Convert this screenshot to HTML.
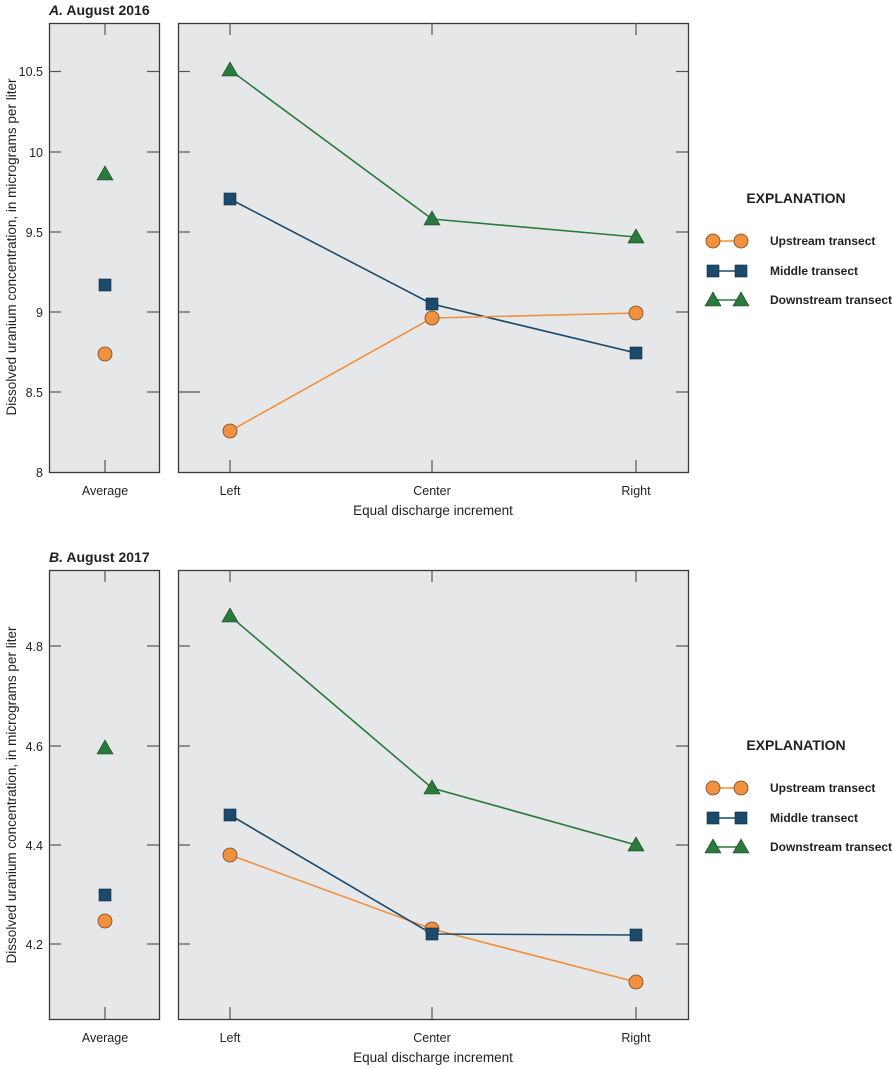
<!DOCTYPE html>
<html><head><meta charset="utf-8"><style>
html,body{margin:0;padding:0;background:#fff}
svg{display:block}
text{font-family:"Liberation Sans",sans-serif;fill:#231f20}
</style></head><body>
<svg width="892" height="1069" viewBox="0 0 892 1069" xmlns="http://www.w3.org/2000/svg">
<defs>
<g id="circ"><circle r="7" fill="#f0913f" stroke="#7a4a20" stroke-width="0.8"/></g>
<g id="sq"><rect x="-6" y="-6" width="12" height="12" fill="#1b4a6b" stroke="#0e2a40" stroke-width="0.6"/></g>
<g id="tri"><polygon points="0,-8 8,6 -8,6" fill="#2a7a3b" stroke="#173f20" stroke-width="0.6"/></g>
</defs>

<!-- ===== Panel A ===== -->
<text x="49" y="15" font-size="14" font-weight="bold"><tspan font-style="italic">A.</tspan> August 2016</text>
<rect x="49.5" y="23.5" width="110" height="449" fill="#e6e7e8" stroke="#3a3a3a" stroke-width="1.3"/>
<rect x="178.5" y="23.5" width="510" height="449" fill="#e6e7e8" stroke="#3a3a3a" stroke-width="1.3"/>
<g stroke="#555" stroke-width="1.2">
<line x1="105" y1="23" x2="105" y2="35"/><line x1="105" y1="472" x2="105" y2="460"/>
<line x1="230" y1="23" x2="230" y2="35"/><line x1="230" y1="472" x2="230" y2="460"/>
<line x1="432" y1="23" x2="432" y2="35"/><line x1="432" y1="472" x2="432" y2="460"/>
<line x1="636" y1="23" x2="636" y2="35"/><line x1="636" y1="472" x2="636" y2="460"/>
<line x1="49" y1="71.5" x2="61" y2="71.5"/><line x1="159" y1="71.5" x2="147" y2="71.5"/><line x1="178" y1="71.5" x2="190" y2="71.5"/><line x1="688" y1="71.5" x2="676" y2="71.5"/>
<line x1="49" y1="152" x2="61" y2="152"/><line x1="159" y1="152" x2="147" y2="152"/><line x1="178" y1="152" x2="190" y2="152"/><line x1="688" y1="152" x2="676" y2="152"/>
<line x1="49" y1="232" x2="61" y2="232"/><line x1="159" y1="232" x2="147" y2="232"/><line x1="178" y1="232" x2="190" y2="232"/><line x1="688" y1="232" x2="676" y2="232"/>
<line x1="49" y1="312" x2="61" y2="312"/><line x1="159" y1="312" x2="147" y2="312"/><line x1="178" y1="312" x2="190" y2="312"/><line x1="688" y1="312" x2="676" y2="312"/>
<line x1="49" y1="392" x2="61" y2="392"/><line x1="159" y1="392" x2="147" y2="392"/><line x1="178" y1="392" x2="200" y2="392"/><line x1="688" y1="392" x2="676" y2="392"/>
</g>
<g font-size="12.5" text-anchor="end">
<text x="43" y="76">10.5</text><text x="43" y="157">10</text><text x="43" y="237">9.5</text>
<text x="43" y="317">9</text><text x="43" y="397">8.5</text><text x="43" y="477">8</text>
</g>
<g font-size="12.5" text-anchor="middle">
<text x="105" y="495">Average</text><text x="230" y="495">Left</text><text x="432" y="495">Center</text><text x="636" y="495">Right</text>
<text x="433" y="515" font-size="13.5">Equal discharge increment</text>
</g>
<text font-size="13.5" text-anchor="middle" transform="translate(16,247) rotate(-90)">Dissolved uranium concentration, in micrograms per liter</text>
<polyline points="230,70 432,219 636,237" fill="none" stroke="#2a7a3b" stroke-width="1.6"/>
<polyline points="230,199 432,304 636,353" fill="none" stroke="#1b4a6b" stroke-width="1.6"/>
<polyline points="230,431 432,318 636,313" fill="none" stroke="#f0913f" stroke-width="1.6"/>
<use href="#tri" x="230" y="70"/><use href="#tri" x="432" y="219"/><use href="#tri" x="636" y="237"/>
<use href="#sq" x="230" y="199"/><use href="#sq" x="432" y="304"/><use href="#sq" x="636" y="353"/>
<use href="#circ" x="230" y="431"/><use href="#circ" x="432" y="318"/><use href="#circ" x="636" y="313"/>
<use href="#tri" x="105" y="174"/><use href="#sq" x="105" y="285"/><use href="#circ" x="105" y="354"/>

<!-- Legend A -->
<text x="796" y="203" font-size="14" font-weight="bold" text-anchor="middle">EXPLANATION</text>
<line x1="713" y1="241" x2="741" y2="241" stroke="#f0913f" stroke-width="1.6"/>
<use href="#circ" x="713" y="241"/><use href="#circ" x="741" y="241"/>
<line x1="713" y1="271" x2="741" y2="271" stroke="#1b4a6b" stroke-width="1.6"/>
<use href="#sq" x="713" y="271"/><use href="#sq" x="741" y="271"/>
<line x1="713" y1="300" x2="741" y2="300" stroke="#2a7a3b" stroke-width="1.6"/>
<use href="#tri" x="713" y="300"/><use href="#tri" x="741" y="300"/>
<g font-size="12" font-weight="bold">
<text x="770" y="245">Upstream transect</text><text x="770" y="275">Middle transect</text><text x="770" y="304">Downstream transect</text>
</g>

<!-- ===== Panel B ===== -->
<text x="49" y="562" font-size="14" font-weight="bold"><tspan font-style="italic">B.</tspan> August 2017</text>
<rect x="49.5" y="570.5" width="110" height="449" fill="#e6e7e8" stroke="#3a3a3a" stroke-width="1.3"/>
<rect x="178.5" y="570.5" width="510" height="449" fill="#e6e7e8" stroke="#3a3a3a" stroke-width="1.3"/>
<g stroke="#555" stroke-width="1.2">
<line x1="105" y1="570" x2="105" y2="582"/><line x1="105" y1="1019" x2="105" y2="1007"/>
<line x1="230" y1="570" x2="230" y2="582"/><line x1="230" y1="1019" x2="230" y2="1007"/>
<line x1="432" y1="570" x2="432" y2="582"/><line x1="432" y1="1019" x2="432" y2="1007"/>
<line x1="636" y1="570" x2="636" y2="582"/><line x1="636" y1="1019" x2="636" y2="1007"/>
<line x1="49" y1="646" x2="61" y2="646"/><line x1="159" y1="646" x2="147" y2="646"/><line x1="178" y1="646" x2="190" y2="646"/><line x1="688" y1="646" x2="676" y2="646"/>
<line x1="49" y1="746" x2="61" y2="746"/><line x1="159" y1="746" x2="147" y2="746"/><line x1="178" y1="746" x2="190" y2="746"/><line x1="688" y1="746" x2="676" y2="746"/>
<line x1="49" y1="845" x2="61" y2="845"/><line x1="159" y1="845" x2="147" y2="845"/><line x1="178" y1="845" x2="190" y2="845"/><line x1="688" y1="845" x2="676" y2="845"/>
<line x1="49" y1="944" x2="61" y2="944"/><line x1="159" y1="944" x2="147" y2="944"/><line x1="178" y1="944" x2="190" y2="944"/><line x1="688" y1="944" x2="676" y2="944"/>
</g>
<g font-size="12.5" text-anchor="end">
<text x="43" y="651">4.8</text><text x="43" y="751">4.6</text><text x="43" y="850">4.4</text><text x="43" y="949">4.2</text>
</g>
<g font-size="12.5" text-anchor="middle">
<text x="105" y="1042">Average</text><text x="230" y="1042">Left</text><text x="432" y="1042">Center</text><text x="636" y="1042">Right</text>
<text x="433" y="1062" font-size="13.5">Equal discharge increment</text>
</g>
<text font-size="13.5" text-anchor="middle" transform="translate(16,795) rotate(-90)">Dissolved uranium concentration, in micrograms per liter</text>
<polyline points="230,616 432,788 636,845" fill="none" stroke="#2a7a3b" stroke-width="1.6"/>
<polyline points="230,855 432,929 636,982" fill="none" stroke="#f0913f" stroke-width="1.6"/>
<polyline points="230,815 432,934 636,935" fill="none" stroke="#1b4a6b" stroke-width="1.6"/>
<use href="#tri" x="230" y="616"/><use href="#tri" x="432" y="788"/><use href="#tri" x="636" y="845"/>
<use href="#circ" x="230" y="855"/><use href="#circ" x="432" y="929"/><use href="#circ" x="636" y="982"/>
<use href="#sq" x="230" y="815"/><use href="#sq" x="432" y="934"/><use href="#sq" x="636" y="935"/>
<use href="#tri" x="105" y="748"/><use href="#sq" x="105" y="895"/><use href="#circ" x="105" y="921"/>

<!-- Legend B -->
<text x="796" y="750" font-size="14" font-weight="bold" text-anchor="middle">EXPLANATION</text>
<line x1="713" y1="788" x2="741" y2="788" stroke="#f0913f" stroke-width="1.6"/>
<use href="#circ" x="713" y="788"/><use href="#circ" x="741" y="788"/>
<line x1="713" y1="818" x2="741" y2="818" stroke="#1b4a6b" stroke-width="1.6"/>
<use href="#sq" x="713" y="818"/><use href="#sq" x="741" y="818"/>
<line x1="713" y1="847" x2="741" y2="847" stroke="#2a7a3b" stroke-width="1.6"/>
<use href="#tri" x="713" y="847"/><use href="#tri" x="741" y="847"/>
<g font-size="12" font-weight="bold">
<text x="770" y="792">Upstream transect</text><text x="770" y="822">Middle transect</text><text x="770" y="851">Downstream transect</text>
</g>
</svg>
</body></html>
